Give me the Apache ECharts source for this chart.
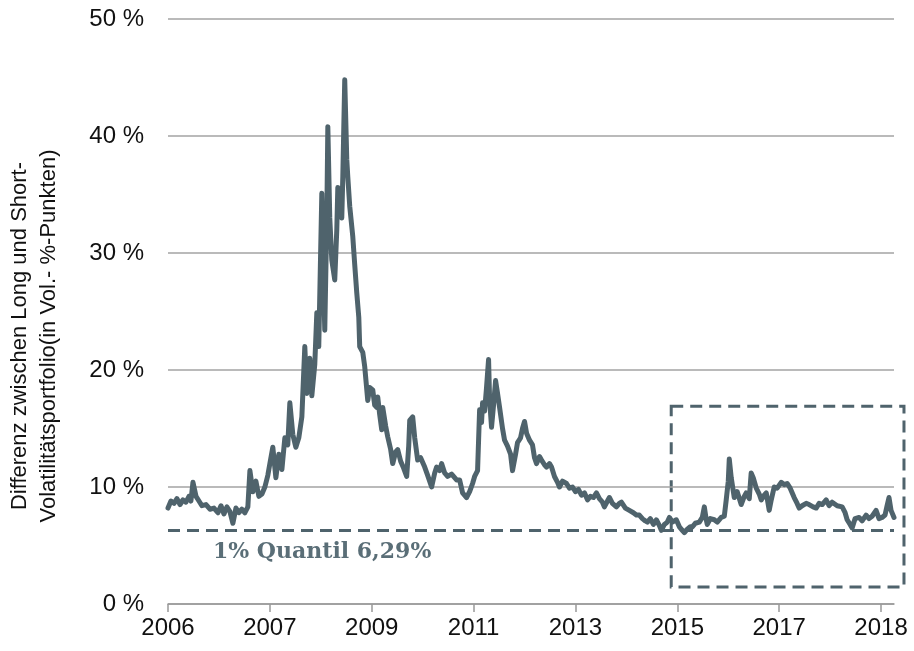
<!DOCTYPE html>
<html>
<head>
<meta charset="utf-8">
<script src="https://cdn.jsdelivr.net/npm/echarts@6/dist/echarts.min.js"></script>
<style>
  html, body { margin: 0; padding: 0; background: #fff; }
  #chart { width: 914px; height: 651px; }
</style>
</head>
<body>
<div id="chart"></div>
<script>
// x positions in axis units (0 = first label "2006", 1 = next label ...)
const xPos = [
  0, 0.029, 0.059, 0.088, 0.118, 0.147, 0.176, 0.206, 0.225, 0.245, 0.275, 0.304, 0.333, 0.373, 0.412, 0.451, 0.490, 0.520, 0.549, 0.578,
  0.608, 0.637, 0.667, 0.696, 0.725, 0.755, 0.784, 0.804, 0.833, 0.863, 0.892, 0.922, 0.951, 0.980, 1.000, 1.029, 1.059, 1.088, 1.118, 1.147,
  1.176, 1.196, 1.225, 1.255, 1.284, 1.314, 1.343, 1.363, 1.392, 1.412, 1.441, 1.461, 1.480, 1.510, 1.529, 1.539, 1.559, 1.569, 1.588, 1.608,
  1.637, 1.657, 1.667, 1.686, 1.706, 1.716, 1.735, 1.755, 1.765, 1.784, 1.814, 1.833, 1.853, 1.873, 1.882, 1.912, 1.931, 1.961, 1.980, 2.010,
  2.029, 2.049, 2.059, 2.078, 2.098, 2.108, 2.137, 2.157, 2.186, 2.206, 2.235, 2.255, 2.284, 2.314, 2.343, 2.363, 2.373, 2.402, 2.422, 2.451,
  2.480, 2.520, 2.549, 2.588, 2.618, 2.637, 2.667, 2.686, 2.716, 2.745, 2.784, 2.833, 2.863, 2.892, 2.931, 2.961, 2.990, 3.010, 3.039, 3.059,
  3.078, 3.088, 3.108, 3.127, 3.147, 3.157, 3.176, 3.196, 3.216, 3.235, 3.255, 3.284, 3.304, 3.333, 3.363, 3.382, 3.412, 3.431, 3.461, 3.480,
  3.500, 3.520, 3.549, 3.578, 3.598, 3.618, 3.647, 3.667, 3.696, 3.716, 3.745, 3.765, 3.794, 3.824, 3.843, 3.873, 3.912, 3.941, 3.971, 4.000,
  4.029, 4.059, 4.088, 4.118, 4.147, 4.176, 4.206, 4.235, 4.265, 4.284, 4.314, 4.333, 4.363, 4.402, 4.431, 4.451, 4.490, 4.529, 4.569, 4.598,
  4.627, 4.657, 4.686, 4.706, 4.735, 4.765, 4.794, 4.824, 4.843, 4.873, 4.902, 4.922, 4.951, 4.990, 5.020, 5.049, 5.069, 5.098, 5.127, 5.147,
  5.176, 5.216, 5.245, 5.265, 5.284, 5.294, 5.324, 5.363, 5.392, 5.431, 5.461, 5.480, 5.500, 5.510, 5.529, 5.559, 5.588, 5.627, 5.657, 5.676,
  5.706, 5.725, 5.745, 5.775, 5.804, 5.824, 5.853, 5.873, 5.902, 5.922, 5.951, 5.980, 6.020, 6.049, 6.078, 6.108, 6.147, 6.176, 6.196, 6.225,
  6.265, 6.294, 6.333, 6.363, 6.392, 6.422, 6.461, 6.490, 6.520, 6.539, 6.569, 6.588, 6.618, 6.647, 6.667, 6.696, 6.716, 6.745, 6.784, 6.814,
  6.853, 6.882, 6.912, 6.951, 6.980, 7.010, 7.039, 7.059, 7.078, 7.098, 7.127
];

// spread long vs short volatility portfolio, in %
const spread = [
  8.2, 8.8, 8.6, 9.0, 8.5, 8.9, 8.7, 9.2, 8.8, 10.4, 9.2, 8.8, 8.4, 8.5, 8.1, 8.2, 7.8, 8.4, 7.7, 8.3,
  7.9, 6.9, 8.2, 7.8, 8.1, 7.8, 8.3, 11.4, 9.6, 10.5, 9.2, 9.4, 10.0, 11.0, 12.0, 13.4, 10.8, 12.8, 11.5, 14.2,
  13.6, 17.2, 14.5, 13.4, 14.2, 16.0, 22.0, 18.0, 21.0, 17.8, 20.5, 24.9, 22.0, 35.1, 27.0, 23.4, 33.0, 40.8, 33.0, 29.4,
  27.7, 32.0, 35.6, 34.5, 33.0, 36.5, 44.8, 38.0, 36.5, 34.0, 31.4, 29.0, 26.6, 24.5, 22.0, 21.5, 20.3, 17.4, 18.5, 18.3,
  17.0, 16.8, 17.7, 16.2, 14.9, 16.8, 15.2, 14.3, 13.2, 12.0, 13.0, 13.2, 12.2, 11.6, 10.9, 13.5, 15.7, 16.0, 14.2, 12.3,
  12.5, 11.7, 11.0, 10.0, 11.2, 11.7, 11.4, 12.0, 11.2, 10.9, 11.1, 10.6, 10.6, 9.5, 9.1, 9.6, 10.3, 10.9, 11.4, 16.6,
  15.5, 17.2, 16.5, 18.5, 20.9, 17.5, 15.1, 17.0, 19.1, 18.0, 16.8, 15.0, 14.0, 13.5, 12.8, 11.4, 12.8, 13.8, 14.2, 15.0,
  15.6, 14.6, 14.0, 13.6, 12.5, 12.0, 12.6, 12.3, 11.9, 11.7, 12.0, 11.7, 10.9, 10.4, 10.0, 10.5, 10.3, 9.9, 10.0, 9.6,
  9.8, 9.3, 9.5, 8.9, 9.2, 9.1, 9.5, 9.0, 8.7, 8.3, 8.8, 9.1, 8.6, 8.3, 8.6, 8.7, 8.2, 8.0, 7.8, 7.6,
  7.6, 7.3, 7.1, 7.0, 7.3, 6.8, 7.2, 6.7, 6.3, 6.8, 7.0, 7.4, 7.0, 7.2, 6.6, 6.3, 6.1, 6.4, 6.6, 6.6,
  6.9, 7.0, 7.4, 8.3, 7.2, 6.8, 7.3, 7.2, 7.0, 7.4, 7.5, 8.9, 10.5, 12.4, 10.8, 9.1, 9.6, 8.5, 9.2, 9.5,
  9.0, 11.2, 10.8, 9.9, 9.4, 8.9, 9.3, 9.5, 8.0, 8.9, 10.0, 9.9, 10.4, 10.2, 10.3, 9.9, 9.1, 8.6, 8.2, 8.4,
  8.6, 8.5, 8.3, 8.2, 8.6, 8.5, 8.9, 8.4, 8.7, 8.6, 8.4, 8.5, 8.3, 7.8, 7.2, 6.8, 6.5, 7.3, 7.4, 7.1,
  7.6, 7.3, 7.5, 8.0, 7.3, 7.4, 7.6, 8.4, 9.1, 8.0, 7.4
];

const tickLabels = ['2006', '2007', '2009', '2011', '2013', '2015', '2017', '2018'];
const tickPos = [0, 1, 2, 3, 4, 5, 6, 7];
const quantile = 6.29;
// highlighted window: x from/to, y from/to
const boxX = [4.94, 7.225];
const boxY = [1.45, 16.9];

const lineColor = '#4f636c';
const chart = echarts.init(document.getElementById('chart'));

const option = {
  animation: false,
  grid: { left: 168, right: 20, top: 19, bottom: 47 },
  xAxis: {
    type: 'value',
    min: 0,
    max: 7.127,
    axisLine: { show: true, lineStyle: { color: '#999', width: 1.5 } },
    axisTick: { show: true, customValues: tickPos, length: 8, lineStyle: { color: '#999', width: 1.5 } },
    axisLabel: {
      customValues: tickPos,
      formatter: v => tickLabels[Math.round(v)],
      color: '#111',
      fontFamily: 'Liberation Sans',
      fontSize: 24,
      margin: 12
    },
    splitLine: { show: false }
  },
  yAxis: {
    type: 'value',
    min: 0,
    max: 50,
    interval: 10,
    axisLine: { show: false },
    axisTick: { show: false },
    axisLabel: {
      formatter: '{value} %',
      color: '#111',
      fontFamily: 'Liberation Sans',
      fontSize: 24,
      margin: 24
    },
    splitLine: { lineStyle: { color: '#a3a3a3', width: 1.5 } }
  },
  graphic: [
    {
      type: 'text',
      x: 34,
      y: 336,
      rotation: Math.PI / 2,
      style: {
        text: 'Differenz zwischen Long und Short-\nVolatilitätsportfolio(in Vol.- %-Punkten)',
        font: '22px "Liberation Sans"',
        fill: '#111',
        align: 'center',
        verticalAlign: 'middle',
        lineHeight: 29
      }
    },
    {
      type: 'text',
      left: 213,
      top: 541,
      style: {
        text: '1% Quantil 6,29%',
        font: 'bold 22px "DejaVu Serif"',
        fill: '#5a6e77'
      }
    }
  ],
  series: [
    {
      type: 'line',
      data: xPos.map((x, i) => [x, spread[i]]),
      showSymbol: false,
      lineStyle: { color: lineColor, width: 5, join: 'round', cap: 'round' },
      markLine: {
        silent: true,
        symbol: 'none',
        label: { show: false },
        lineStyle: { color: lineColor, width: 3, type: [12, 7] },
        data: [{ yAxis: quantile }]
      }
    }
  ]
};

chart.setOption(option);

// dashed highlight box reaches past the plot edge, so place it via the axis scales
const p1 = chart.convertToPixel({ gridIndex: 0 }, [boxX[0], boxY[1]]);
const p2 = chart.convertToPixel({ gridIndex: 0 }, [boxX[1], boxY[0]]);
chart.setOption({
  graphic: option.graphic.concat([{
    type: 'rect',
    silent: true,
    shape: { x: p1[0], y: p1[1], width: p2[0] - p1[0], height: p2[1] - p1[1] },
    style: { fill: 'none', stroke: lineColor, lineWidth: 3, lineDash: [12, 7] }
  }])
});
</script>
</body>
</html>
